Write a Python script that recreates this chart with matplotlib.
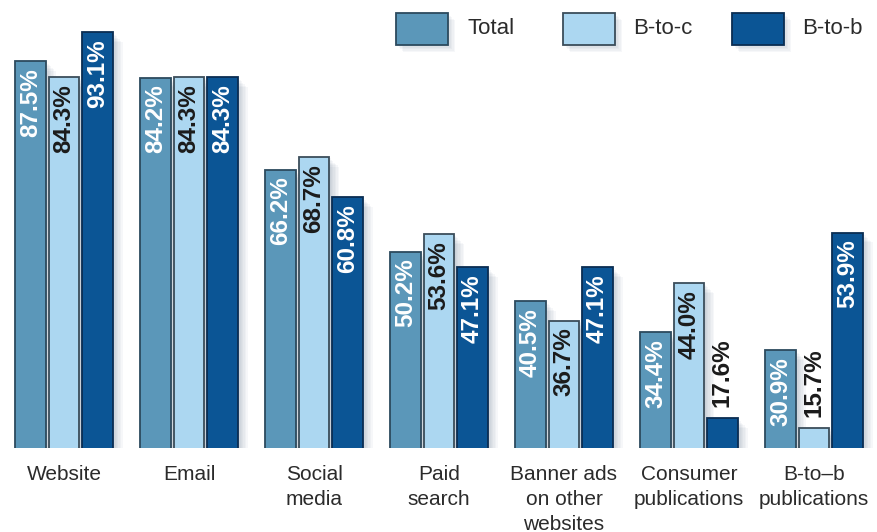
import matplotlib
matplotlib.use("Agg")
import matplotlib.pyplot as plt
from matplotlib.patches import Rectangle
import matplotlib.patheffects as pe
import numpy as np

plt.rcParams['font.family'] = ['Liberation Sans', 'DejaVu Sans']

categories = ["Website", "Email", "Social\nmedia", "Paid\nsearch",
              "Banner ads\non other\nwebsites", "Consumer\npublications",
              "B-to\u2013b\npublications"]
series_names = ["Total", "B-to-c", "B-to-b"]
total = [87.5, 84.2, 66.2, 50.2, 40.5, 34.4, 30.9]
b_to_c = [84.3, 84.3, 68.7, 53.6, 36.7, 44.0, 15.7]
b_to_b = [93.1, 84.3, 60.8, 47.1, 47.1, 17.6, 53.9]

fills = ["#5b97b9", "#acd7f1", "#0b5595"]
edges = ["#2c4a5e", "#3b4d5a", "#0a2d52"]
text_colors = ["white", "#1b1b1b", "white"]

W, H = 877, 532
fig = plt.figure(figsize=(W / 100, H / 100), dpi=100)
ax = fig.add_axes([0, 1 - 448 / H, 1, 448 / H])
ax.set_xlim(-64 / 125, (W - 64) / 125)
ax.set_ylim(11.8, 99.4)

x = np.arange(len(categories))
pitch, width = 0.268, 0.245
shadow = [pe.SimplePatchShadow(offset=(k, -k), shadow_rgbFace="#3d5a75",
                               alpha=0.045) for k in range(1, 8)] + [pe.Normal()]

fig.canvas.draw()
px_per_unit = ax.transData.transform((0, 1))[1] - ax.transData.transform((0, 0))[1]

for s, vals in enumerate([total, b_to_c, b_to_b]):
    xs = x + (s - 1) * pitch
    bars = ax.bar(xs, vals, width=width, color=fills[s], edgecolor=edges[s],
                  linewidth=1.3, zorder=2)
    for b in bars:
        b.set_path_effects(shadow)
    for xi, v in zip(xs, vals):
        label = f"{v:.1f}%"
        bar_px = (v - ax.get_ylim()[0]) * px_per_unit
        if bar_px > 85:
            ax.annotate(label, (xi, v), xytext=(0, -5), textcoords="offset points",
                        rotation=90, ha="center", va="top", fontsize=17.5,
                        fontweight="bold", color=text_colors[s], zorder=3)
        else:
            ax.annotate(label, (xi, v), xytext=(0, 8), textcoords="offset points",
                        rotation=90, ha="center", va="bottom", fontsize=17.5,
                        fontweight="bold", color="#1b1b1b", zorder=3)

ax.set_xticks(x)
ax.set_xticklabels(categories, fontsize=15, color="#2b2b2b", linespacing=1.4)
ax.tick_params(axis="x", length=0, pad=12)
ax.set_yticks([])
for sp in ax.spines.values():
    sp.set_visible(False)
ax.patch.set_alpha(0)

# legend row
leg_x = [396, 563, 732]
txt_x = [467, 633, 802]
for s in range(3):
    r = Rectangle((leg_x[s] / W, 1 - 45 / H), 52 / W, 32 / H,
                  transform=fig.transFigure, facecolor=fills[s],
                  edgecolor=edges[s], linewidth=1.3)
    r.set_path_effects([pe.SimplePatchShadow(offset=(k, -k), shadow_rgbFace="#3d5a75",
                                             alpha=0.045) for k in range(1, 6)] + [pe.Normal()])
    fig.add_artist(r)
    fig.text(txt_x[s] / W, 1 - 29 / H, series_names[s], fontsize=16,
             color="#2b2b2b", ha="left", va="center")

fig.savefig("out.png", dpi=100)
